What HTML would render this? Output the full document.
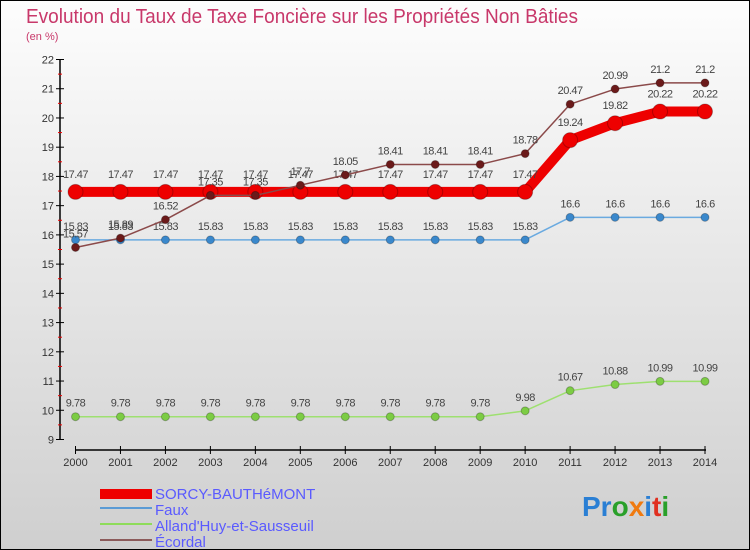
<!DOCTYPE html>
<html><head><meta charset="utf-8"><style>
html,body{margin:0;padding:0;width:750px;height:550px;overflow:hidden}
svg{display:block}
text{font-family:"Liberation Sans",sans-serif}
</style></head><body>
<svg id="chart" width="750" height="550" xmlns="http://www.w3.org/2000/svg">
<defs><linearGradient id="bg" x1="0" y1="0" x2="0" y2="1"><stop offset="0" stop-color="#fdfdfd"/><stop offset="1" stop-color="#cfcfcf"/></linearGradient></defs>
<rect x="0" y="0" width="750" height="550" fill="url(#bg)" stroke="#000" stroke-width="2"/>
<text x="26" y="23" font-size="20" fill="#c8386a" textLength="552" lengthAdjust="spacingAndGlyphs">Evolution du Taux de Taxe Foncière sur les Propriétés Non Bâties</text>
<text x="26" y="40" font-size="11" fill="#c8386a">(en %)</text>
<g id="axes"></g><g id="series"></g>
<g>
<rect x="100" y="489" width="52" height="10" fill="#e00"/>
<text x="155" y="499" font-size="15" fill="#5a5aff">SORCY-BAUTHéMONT</text>
<rect x="100" y="507" width="52" height="2" fill="#5b9bd5"/>
<text x="155" y="515" font-size="15" fill="#5a5aff">Faux</text>
<rect x="100" y="523" width="52" height="2" fill="#8edc5a"/>
<text x="155" y="531" font-size="15" fill="#5a5aff">Alland'Huy-et-Sausseuil</text>
<rect x="100" y="539" width="52" height="2" fill="#8b5a5a"/>
<text x="155" y="547" font-size="15" fill="#5a5aff">Écordal</text>
</g>
<text x="582" y="516" font-size="28" font-weight="bold"><tspan fill="#2a7fd4">Pr</tspan><tspan fill="#2aa02a">o</tspan><tspan fill="#f07a10">x</tspan><tspan fill="#2a7fd4">i</tspan><tspan fill="#e03020">t</tspan><tspan fill="#2aa02a">i</tspan></text>
</svg>
<script>
const years=[2000,2001,2002,2003,2004,2005,2006,2007,2008,2009,2010,2011,2012,2013,2014];
const yTicks=[9,10,11,12,13,14,15,16,17,18,19,20,21,22];
const sorcy=[17.47,17.47,17.47,17.47,17.47,17.47,17.47,17.47,17.47,17.47,17.47,19.24,19.82,20.22,20.22];
const faux=[15.83,15.83,15.83,15.83,15.83,15.83,15.83,15.83,15.83,15.83,15.83,16.6,16.6,16.6,16.6];
const alland=[9.78,9.78,9.78,9.78,9.78,9.78,9.78,9.78,9.78,9.78,9.98,10.67,10.88,10.99,10.99];
const ecordal=[15.57,15.89,16.52,17.35,17.35,17.7,18.05,18.41,18.41,18.41,18.78,20.47,20.99,21.2,21.2];
const NS="http://www.w3.org/2000/svg";
const xS=i=>75.5+i*(705-75.5)/14;
const yS=v=>439.5-(v-9)*(439.5-59.5)/13;
function mk(t,a,p){const e=document.createElementNS(NS,t);for(const k in a)e.setAttribute(k,a[k]);p.appendChild(e);return e;}
const ax=document.getElementById('axes');
let l=mk('line',{x1:60,y1:yS(22),x2:60,y2:yS(9),stroke:'#000','stroke-width':1.5},ax);


yTicks.forEach(v=>{
 const y=yS(v);
 mk('line',{x1:56,y1:y,x2:64,y2:y,stroke:'#000'},ax);
 if(v<22)mk('line',{x1:58,y1:yS(v+0.5),x2:62,y2:yS(v+0.5),stroke:'#e00'},ax);
 const t=mk('text',{x:54,y:y+4,'font-size':11,fill:'#333','text-anchor':'end'},ax);t.textContent=v;
 
 
});
l=mk('line',{x1:75,y1:450,x2:706,y2:450,stroke:'#000','stroke-width':1.5},ax);


years.forEach((yr,i)=>{
 const x=xS(i);
 mk('line',{x1:x,y1:446,x2:x,y2:454,stroke:'#000'},ax);
 const t=mk('text',{x:x,y:466,'font-size':11,fill:'#333','text-anchor':'middle'},ax);t.textContent=yr;
 
 
});
const sg=document.getElementById('series');
function draw(data,name,color,dot,w,r,order){
 const g=mk('g',{},sg);
 
 
 mk('polyline',{points:data.map((v,i)=>xS(i)+','+yS(v)).join(' '),fill:'none',stroke:color,'stroke-width':w,'stroke-linejoin':'round'},g);
 data.forEach((v,i)=>{
  const c=mk('circle',{cx:xS(i),cy:yS(v),r:r,fill:dot,stroke:'rgba(0,0,0,0.25)'},g);
  
  
  const t=mk('text',{x:xS(i),y:yS(v)-10-(r>5?4:0),'font-size':11,fill:'#444','text-anchor':'middle','letter-spacing':'-0.5'},g);
  t.textContent=v;
  
  
 });
}
draw(alland,'alland','#9ee070','#7ccc44',1.5,4);
draw(faux,'faux','#6aaae0','#3a88cc',1.5,4);
draw(sorcy,'sorcy','#ee0000','#ee0000',10,7.5);
draw(ecordal,'ecordal','#8b4a4a','#6b1a1a',1.5,4);
</script>
</body></html>
